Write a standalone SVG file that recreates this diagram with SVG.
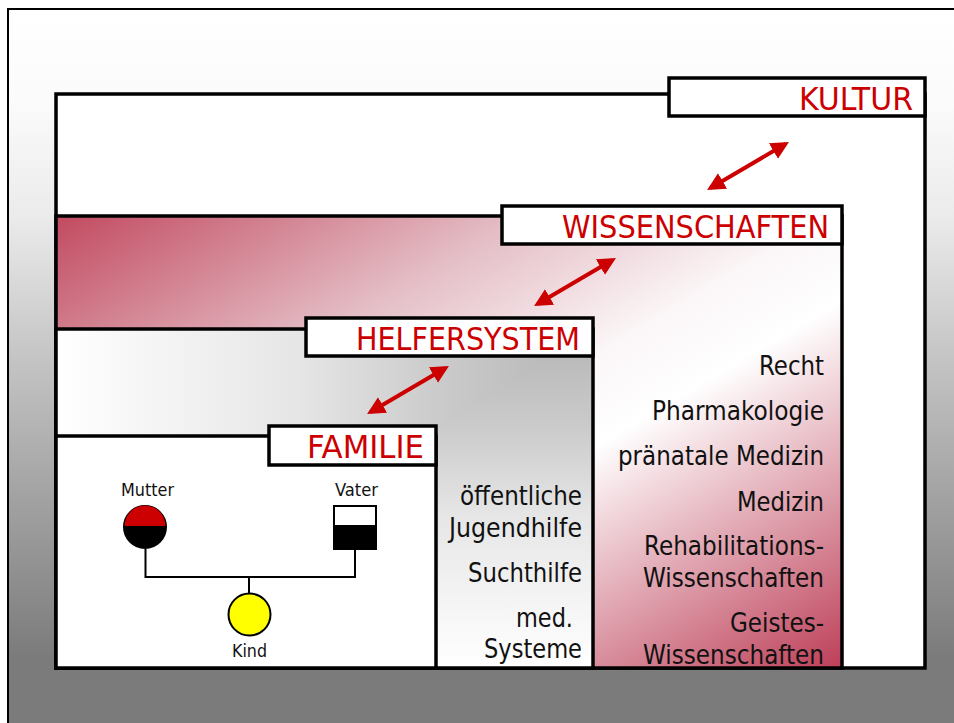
<svg xmlns="http://www.w3.org/2000/svg" width="954" height="723" viewBox="0 0 954 723">
<style>
text{font-family:"DejaVu Sans Condensed","DejaVu Sans",sans-serif}
.pn{stroke:#000;stroke-width:3.500;fill:none}
.lb{fill:#fff;stroke:#000;stroke-width:3.500}
.lt{fill:#cc0000;font-size:32px}
.bt{fill:#111;font-size:27px}
.st{fill:#111;font-size:17px}
.ar{stroke:#cc0000;stroke-width:4;fill:none;marker-start:url(#h);marker-end:url(#h)}
.ln{stroke:#000;stroke-width:2;fill:none}
</style>
<defs>
<linearGradient id="bg" gradientUnits="userSpaceOnUse" x1="0" y1="9" x2="0" y2="723"><stop offset="0" stop-color="#fff"/><stop offset=".13" stop-color="#fbfbfb"/><stop offset=".29" stop-color="#ebebeb"/><stop offset=".49" stop-color="#c4c4c4"/><stop offset=".91" stop-color="#7b7b7b"/><stop offset="1" stop-color="#7b7b7b"/></linearGradient>
<linearGradient id="w" gradientUnits="userSpaceOnUse" x1="56" y1="216" x2="459" y2="895"><stop offset="0" stop-color="#c24a60"/><stop offset=".3" stop-color="#e4bdc5"/><stop offset=".5" stop-color="#fbf6f7"/><stop offset=".6" stop-color="#fff"/><stop offset="1" stop-color="#bd3f58"/></linearGradient>
<linearGradient id="hh" gradientUnits="userSpaceOnUse" x1="56" y1="0" x2="593" y2="0"><stop offset="0" stop-color="#fff"/><stop offset=".45" stop-color="#e6e6e6"/><stop offset=".7" stop-color="#cccccc"/><stop offset="1" stop-color="#b4b4b4"/></linearGradient>
<linearGradient id="hv" gradientUnits="userSpaceOnUse" x1="0" y1="668" x2="0" y2="329"><stop offset="0" stop-color="#fff"/><stop offset=".45" stop-color="#e6e6e6"/><stop offset=".7" stop-color="#cccccc"/><stop offset="1" stop-color="#b4b4b4"/></linearGradient>
<marker id="h" markerUnits="userSpaceOnUse" markerWidth="20" markerHeight="20" refX="14" refY="10" orient="auto-start-reverse"><path d="M0 1L18 10L0 19z" fill="#cc0000"/></marker>
</defs>
<g id="hintergrund"><rect x="8" y="9" width="950" height="720" fill="url(#bg)" stroke="#000" stroke-width="2"/></g>
<g id="kultur"><rect x="56" y="94" width="869" height="574" class="pn" style="fill:#fff"/><rect x="669" y="78" width="256" height="38" class="lb"/><text x="799" y="110" class="lt" textLength="114" lengthAdjust="spacingAndGlyphs">KULTUR</text></g>
<g id="wissenschaften"><rect x="56" y="216" width="786" height="452" class="pn" style="fill:url(#w)"/><rect x="502" y="206" width="340" height="38" class="lb"/><text x="562" y="238" class="lt" textLength="267" lengthAdjust="spacingAndGlyphs">WISSENSCHAFTEN</text>
<text x="759" y="375" class="bt" textLength="65" lengthAdjust="spacingAndGlyphs">Recht</text>
<text x="652" y="420" class="bt" textLength="172" lengthAdjust="spacingAndGlyphs">Pharmakologie</text>
<text x="618" y="465" class="bt" textLength="206" lengthAdjust="spacingAndGlyphs">pränatale Medizin</text>
<text x="737" y="511" class="bt" textLength="87" lengthAdjust="spacingAndGlyphs">Medizin</text>
<text x="644" y="555" class="bt" textLength="180" lengthAdjust="spacingAndGlyphs">Rehabilitations-</text>
<text x="643" y="587" class="bt" textLength="181" lengthAdjust="spacingAndGlyphs">Wissenschaften</text>
<text x="730" y="632" class="bt" textLength="94" lengthAdjust="spacingAndGlyphs">Geistes-</text>
<text x="643" y="664" class="bt" textLength="181" lengthAdjust="spacingAndGlyphs">Wissenschaften</text></g>
<g id="helfersystem"><rect x="56" y="329" width="537" height="339" fill="url(#hh)"/><path d="M593 329V668H56z" fill="url(#hv)"/><rect x="56" y="329" width="537" height="339" class="pn"/><rect x="306" y="318" width="287" height="38" class="lb"/><text x="356" y="350" class="lt" textLength="224" lengthAdjust="spacingAndGlyphs">HELFERSYSTEM</text>
<text x="460" y="505" class="bt" textLength="122" lengthAdjust="spacingAndGlyphs">öffentliche</text>
<text x="449" y="537" class="bt" textLength="133" lengthAdjust="spacingAndGlyphs">Jugendhilfe</text>
<text x="468" y="582" class="bt" textLength="114" lengthAdjust="spacingAndGlyphs">Suchthilfe</text>
<text x="516" y="627" class="bt" textLength="57" lengthAdjust="spacingAndGlyphs">med.</text>
<text x="484" y="658" class="bt" textLength="98" lengthAdjust="spacingAndGlyphs">Systeme</text></g>
<g id="familie"><rect x="56" y="436" width="380" height="232" class="pn" style="fill:#fff"/><rect x="269" y="426" width="167" height="39" class="lb"/><text x="307" y="458" class="lt" textLength="117" lengthAdjust="spacingAndGlyphs">FAMILIE</text></g>
<g id="verbinder">
<line class="ar" x1="710.500" y1="188" x2="785.500" y2="144"/>
<line class="ar" x1="537.500" y1="304" x2="612.500" y2="260"/>
<line class="ar" x1="370.500" y1="412" x2="445.500" y2="368"/>
<path class="ln" d="M145.500 549V577H355V549M249 577V593"/>
</g>
<g id="mutter"><circle cx="145" cy="527" r="21" fill="#000" stroke="#000" stroke-width="2"/><path d="M124.500 526A20.500 20.500 0 0 1 165.500 526z" fill="#cc0000"/><text x="121" y="496" class="st" textLength="53" lengthAdjust="spacingAndGlyphs">Mutter</text></g>
<g id="vater"><rect x="334" y="506" width="42" height="43" fill="#fff" stroke="#000" stroke-width="2"/><rect x="333" y="525" width="44" height="25" fill="#000"/><text x="335" y="496" class="st" textLength="43" lengthAdjust="spacingAndGlyphs">Vater</text></g>
<g id="kind"><circle cx="249.500" cy="614.500" r="21" fill="#ff0" stroke="#000" stroke-width="2"/><text x="232" y="657" class="st" textLength="35" lengthAdjust="spacingAndGlyphs">Kind</text></g>
</svg>
